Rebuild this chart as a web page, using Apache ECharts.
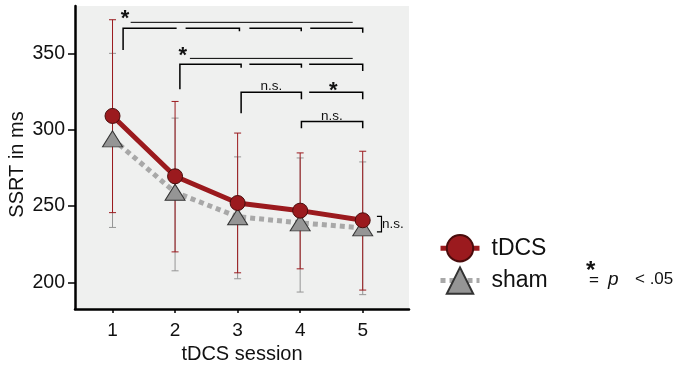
<!DOCTYPE html>
<html>
<head>
<meta charset="utf-8">
<script src="https://cdn.jsdelivr.net/npm/echarts@6/dist/echarts.min.js"></script>
<style>
  html, body { margin: 0; padding: 0; background: #fff; }
  #chart { width: 676px; height: 366px; }
</style>
</head>
<body>
<div id="chart"></div>
<script>
// 数据
var sessions = [1, 2, 3, 4, 5];
var tdcsMean = [309, 269.5, 252, 247, 240.7];
var tdcsLow = [245.7, 220, 206.3, 208.9, 195];
var tdcsHigh = [372, 318.5, 297.8, 284.8, 285.9];
var shamMean = [294, 259, 243, 239, 235.7];
var shamLow = [236, 207.6, 202.4, 193.7, 192];
var shamHigh = [350, 307.6, 282.2, 281.5, 278.9];
var yTicks = [200, 250, 300, 350];

// 显著性括号: [x1, x2, y, 左侧下垂, 右侧下垂]
var sigBrackets = [
  [1.169, 2.025, 366.5, 14.3, 0],
  [2.168, 3.029, 366.5, 0, 2],
  [3.188, 4.017, 366.5, 0, 2],
  [4.161, 5.0, 366.5, 0, 3],
  [2.077, 3.056, 342.8, 16.3, 2.3],
  [3.188, 4.02, 342.8, 0, 2.3],
  [4.144, 5.0, 342.8, 0, 4.4],
  [3.056, 4.02, 324.5, 13.7, 4.6],
  [4.144, 5.0, 324.5, 0, 4.6],
  [4.02, 5.0, 305.3, 4.3, 4.3]
];
// 星号上方的细线
var sigLines = [
  [1.29, 4.84, 370.3],
  [2.237, 4.84, 346.7]
];
// 标注文字: [x, y]
var sigTextPos = [
  [1.2, 375.5], [2.125, 351.8], [3.54, 328.6], [4.53, 328.6], [4.506, 309], [5.31, 238]
];
var sigTexts = ['*', '*', 'n.s.', '*', 'n.s.', 'n.s.'];
// 最后一个点右侧的竖括号: [x1, x2, yTop, yBottom]
var endBracket = [[5.227, 5.30, 243.3, 233.1]];

var FONT = 'Liberation Sans, Arial, Helvetica, sans-serif';
var RED = '#9b1a1e';
var GRAY = '#959595';

function errorBarItem(color) {
  return function (params, api) {
    var x = api.value(0);
    var top = api.coord([x, api.value(2)]);
    var bot = api.coord([x, api.value(1)]);
    var w = 3.5;
    var style = { stroke: color, lineWidth: 1, fill: null };
    return {
      type: 'group',
      children: [
        { type: 'line', shape: { x1: top[0], y1: top[1], x2: bot[0], y2: bot[1] }, style: style },
        { type: 'line', shape: { x1: top[0] - w, y1: top[1], x2: top[0] + w, y2: top[1] }, style: style },
        { type: 'line', shape: { x1: bot[0] - w, y1: bot[1], x2: bot[0] + w, y2: bot[1] }, style: style }
      ]
    };
  };
}

var chart = echarts.init(document.getElementById('chart'));
chart.setOption({
  animation: false,
  textStyle: { fontFamily: FONT },
  grid: {
    left: 75, right: 267, top: 6, bottom: 57,
    outerBoundsMode: 'none',
    containLabel: false,
    show: true, backgroundColor: '#eff0ef', borderWidth: 0
  },
  legend: {
    data: [
      { name: 'tDCS', lineStyle: { width: 5 } },
      { name: 'sham', lineStyle: { width: 5, type: [5, 4] } }
    ],
    orient: 'vertical',
    left: 433,
    top: 229,
    itemWidth: 39,
    itemHeight: 33,
    itemGap: 4,
    textStyle: { fontSize: 23, color: '#111', fontFamily: FONT, padding: [0, 0, 0, 7] }
  },
  xAxis: {
    type: 'value',
    min: 0.4,
    max: 5.74,
    name: 'tDCS session',
    nameLocation: 'middle',
    nameGap: 35,
    nameTextStyle: { fontSize: 20, color: '#111', fontFamily: FONT },
    axisLine: { lineStyle: { color: '#000', width: 2.5 } },
    axisTick: { customValues: sessions, length: 4, lineStyle: { color: '#000', width: 1.5 } },
    axisLabel: { customValues: sessions, fontSize: 19, color: '#111', margin: 12 },
    splitLine: { show: false }
  },
  yAxis: {
    type: 'value',
    min: 182.6,
    max: 381,
    name: 'SSRT in ms',
    nameLocation: 'middle',
    nameGap: 48,
    nameTextStyle: { fontSize: 20, color: '#111', fontFamily: FONT, padding: [0, 14, 0, 0] },
    axisLine: { show: true, lineStyle: { color: '#000', width: 2.5 } },
    axisTick: { show: true, customValues: yTicks, length: 7, lineStyle: { color: '#000', width: 1.5 } },
    axisLabel: { customValues: yTicks, fontSize: 19.5, color: '#111', margin: 10 },
    splitLine: { show: false }
  },
  graphic: [
    { type: 'text', left: 586, top: 259, style: { text: '*', fontSize: 24, fontWeight: 'bold', fill: '#111', fontFamily: FONT } },
    { type: 'text', left: 589, top: 272, style: { text: '=', fontSize: 17, fill: '#111', fontFamily: FONT } },
    { type: 'text', left: 608, top: 270, style: { text: 'p', fontSize: 19, fontStyle: 'italic', fill: '#111', fontFamily: FONT } },
    { type: 'text', left: 635, top: 271, style: { text: '< .05', fontSize: 17, fill: '#111', fontFamily: FONT } }
  ],
  series: [
    {
      type: 'custom',
      renderItem: errorBarItem(GRAY),
      data: sessions.map(function (s, i) { return [s, shamLow[i], shamHigh[i]]; }),
      z: 1
    },
    {
      type: 'custom',
      renderItem: errorBarItem(RED),
      data: sessions.map(function (s, i) { return [s, tdcsLow[i], tdcsHigh[i]]; }),
      z: 1
    },
    {
      name: 'sham',
      type: 'line',
      data: sessions.map(function (s, i) { return [s, shamMean[i]]; }),
      symbol: 'triangle',
      symbolSize: [20, 16],
      lineStyle: { color: '#a8a8a8', width: 5, type: [5, 4] },
      itemStyle: { color: GRAY, borderColor: '#333', borderWidth: 1 },
      z: 2
    },
    {
      name: 'tDCS',
      type: 'line',
      data: sessions.map(function (s, i) { return [s, tdcsMean[i]]; }),
      symbol: 'circle',
      symbolSize: 15,
      lineStyle: { color: RED, width: 5 },
      itemStyle: { color: RED, borderColor: '#4a0c0c', borderWidth: 1 },
      z: 3
    },
    {
      // 显著性括号
      type: 'custom',
      data: sigBrackets,
      renderItem: function (params, api) {
        var x1 = api.value(0), x2 = api.value(1), y = api.value(2);
        var dl = api.value(3), dr = api.value(4);
        var pts = [];
        if (dl > 0) pts.push(api.coord([x1, y - dl]));
        pts.push(api.coord([x1, y]));
        pts.push(api.coord([x2, y]));
        if (dr > 0) pts.push(api.coord([x2, y - dr]));
        return { type: 'polyline', shape: { points: pts }, style: { stroke: '#000', lineWidth: 1.5, fill: null } };
      },
      z: 4
    },
    {
      type: 'custom',
      data: sigLines,
      renderItem: function (params, api) {
        var a = api.coord([api.value(0), api.value(2)]);
        var b = api.coord([api.value(1), api.value(2)]);
        return { type: 'line', shape: { x1: a[0], y1: a[1], x2: b[0], y2: b[1] }, style: { stroke: '#000', lineWidth: 1 } };
      },
      z: 4
    },
    {
      type: 'custom',
      data: endBracket,
      renderItem: function (params, api) {
        var x1 = api.value(0), x2 = api.value(1);
        var pts = [
          api.coord([x1, api.value(2)]), api.coord([x2, api.value(2)]),
          api.coord([x2, api.value(3)]), api.coord([x1, api.value(3)])
        ];
        return { type: 'polyline', shape: { points: pts }, style: { stroke: '#000', lineWidth: 1.2, fill: null } };
      },
      z: 4
    },
    {
      type: 'custom',
      data: sigTextPos,
      renderItem: function (params, api) {
        var p = api.coord([api.value(0), api.value(1)]);
        var t = sigTexts[params.dataIndex];
        var star = t === '*';
        var last = params.dataIndex === sigTexts.length - 1;
        return {
          type: 'text',
          x: p[0],
          y: star ? p[1] + 5 : p[1],
          style: {
            text: t,
            fontSize: star ? 22 : 13.5,
            fontWeight: star ? 'bold' : 'normal',
            fontFamily: FONT,
            fill: '#111',
            align: last ? 'left' : 'center',
            verticalAlign: 'middle'
          }
        };
      },
      z: 5
    }
  ]
});
</script>
</body>
</html>
